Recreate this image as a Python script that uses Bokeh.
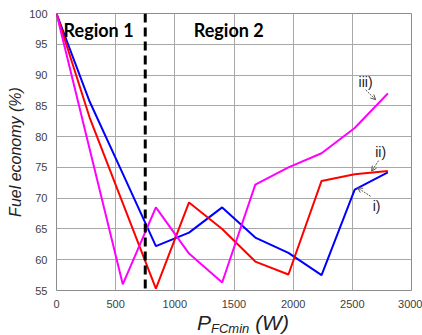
from bokeh.plotting import figure
from bokeh.models import Label, Arrow, OpenHead, Span, FixedTicker, Div
from bokeh.layouts import column
from bokeh.embed import file_html
from bokeh.resources import INLINE

# Data
p_fcmin = [0, 280, 560, 840, 1120, 1400, 1680, 1960, 2240, 2520, 2800]
series_i = [100, 85.7, 74.0, 62.2, 64.4, 68.5, 63.6, 61.1, 57.5, 71.4, 74.2]
series_ii = [100, 83.1, 69.2, 55.3, 69.3, 65.0, 59.7, 57.6, 72.8, 73.9, 74.4]
series_iii = [100, 78.0, 56.0, 68.5, 61.0, 56.3, 72.2, 75.0, 77.3, 81.4, 87.0]
region_boundary = 750
x_ticks = [0, 500, 1000, 1500, 2000, 2500, 3000]
y_ticks = [55, 60, 65, 70, 75, 80, 85, 90, 95, 100]
region_labels = ["Region 1", "Region 2"]
curve_labels = ["i)", "ii)", "iii)"]

p = figure(width=422, height=310, x_range=(0, 3000), y_range=(55, 100),
           output_backend="svg", toolbar_location=None,
           min_border_left=56, min_border_right=11, min_border_top=13, min_border_bottom=17)
p.background_fill_color = "white"
p.border_fill_color = "white"
p.outline_line_color = "#8c8c8c"
p.outline_line_width = 1

for ax in (p.xaxis, p.yaxis):
    ax.axis_line_color = None
    ax.major_tick_line_color = None
    ax.minor_tick_line_color = None
    ax.major_label_text_font = "Liberation Sans"
    ax.major_label_text_font_size = "11px"
    ax.major_label_text_color = "#404040"
p.xaxis.ticker = FixedTicker(ticks=x_ticks)
p.yaxis.ticker = FixedTicker(ticks=y_ticks)
p.xaxis.major_label_standoff = 3
p.yaxis.major_label_standoff = 3

p.yaxis.axis_label = "Fuel economy (%)"
p.yaxis.axis_label_text_font = "Liberation Sans"
p.yaxis.axis_label_text_font_style = "italic"
p.yaxis.axis_label_text_font_size = "16px"
p.yaxis.axis_label_text_color = "#222222"
p.yaxis.axis_label_standoff = 2

p.xgrid.ticker = FixedTicker(ticks=x_ticks)
p.ygrid.ticker = FixedTicker(ticks=y_ticks)
p.grid.grid_line_color = "#a8a8a8"
p.grid.grid_line_width = 1

p.line(p_fcmin, series_i, line_color="#0000ff", line_width=2)
p.line(p_fcmin, series_ii, line_color="#ff0000", line_width=2)
p.line(p_fcmin, series_iii, line_color="#ff00ff", line_width=2)

p.add_layout(Span(location=region_boundary, dimension="height", line_color="black",
                  line_width=3, line_dash="9 5"))

for txt, xx in zip(region_labels, [60, 1160]):
    p.add_layout(Label(x=xx, y=97.3, text=txt, text_font="Lato", text_font_style="bold",
                       text_font_size="18px", text_color="black", text_baseline="middle"))

# curve annotations
ann_text = [(2612, 88.9), (2739, 77.5), (2705, 68.8)]
ann_arrow = [((2612, 87.6), (2697, 86.0)), ((2722, 76.1), (2663, 74.4)), ((2654, 70.3), (2544, 71.7))]
order = [2, 1, 0]
for k, (tx, ty) in zip(order, ann_text):
    p.add_layout(Label(x=tx, y=ty, text=curve_labels[k], text_font="Liberation Sans",
                       text_font_size="14px", text_color="#222222",
                       text_align="center", text_baseline="middle"))
for (s, e) in ann_arrow:
    p.add_layout(Arrow(end=OpenHead(size=5, line_color="#555555", line_width=1),
                       x_start=s[0], y_start=s[1], x_end=e[0], y_end=e[1],
                       line_color="#555555", line_width=1, line_dash="2 1"))

xlabel = Div(
    text='<div style="font-family:\'Liberation Sans\';font-style:italic;color:#222;'
         'font-size:21px;line-height:25px;padding-left:197px;white-space:nowrap;">'
         'P<span style="font-size:13px;position:relative;top:3px;">FCmin</span> (W)</div>',
    width=422, height=25, margin=(0, 0, 0, 0))

layout = column(p, xlabel, spacing=0)
open("out.html", "w").write(file_html(layout, INLINE))
